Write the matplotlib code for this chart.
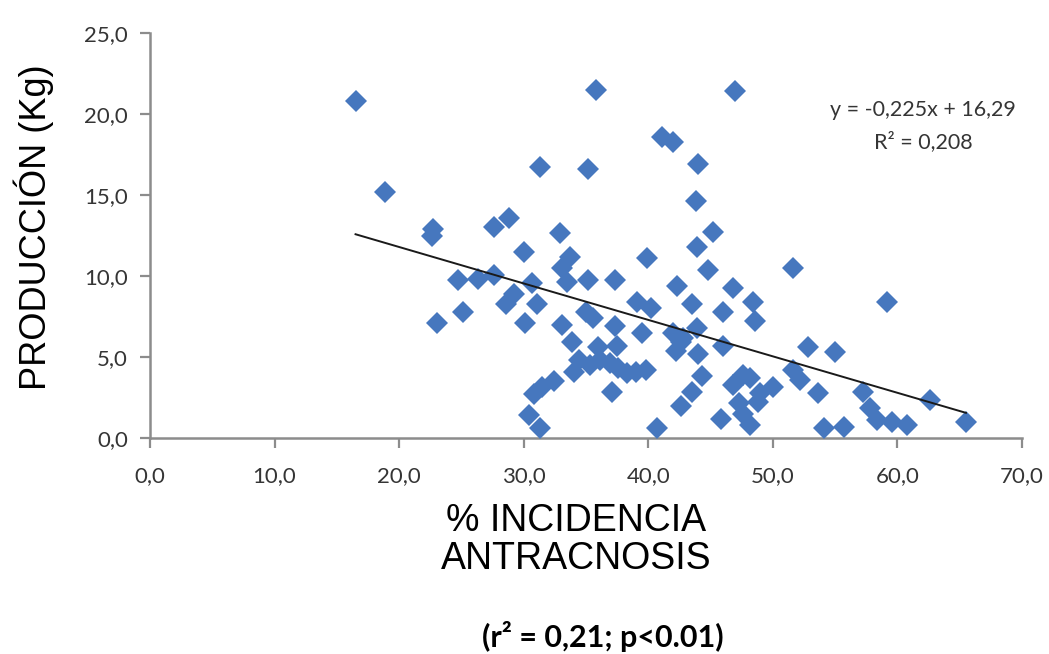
import matplotlib
matplotlib.use("Agg")
import matplotlib.pyplot as plt
import numpy as np

# ---- data ----
incidencia = [16.5, 18.9, 22.6, 22.7, 23.0, 24.7, 25.1, 26.3, 27.6, 27.6, 28.8, 28.6, 29.2,
              30.0, 30.7, 31.1, 30.1, 30.4, 30.8, 31.5, 32.4, 31.3, 31.3, 32.9, 33.7, 33.1,
              33.5, 35.2, 37.35, 33.1, 33.9, 35.0, 35.6, 37.35, 37.5, 36.0, 34.4, 34.0, 35.3,
              36.1, 36.9, 37.6, 38.3, 39.0, 39.8, 37.1, 35.2, 35.8, 39.9, 39.1, 40.2, 39.5,
              40.7, 41.1, 42.0, 44.0, 43.8, 45.2, 43.9, 44.8, 42.3, 43.5, 42.0, 42.6, 42.2,
              42.8, 43.9, 44.0, 42.6, 43.5, 44.3, 45.8, 46.0, 46.0, 47.0, 46.8, 48.4, 48.6,
              51.6, 47.6, 46.8, 48.2, 49.0, 50.0, 48.8, 47.3, 47.6, 48.2, 51.6, 52.2, 52.8,
              55.0, 53.6, 54.1, 55.7, 57.2, 57.8, 58.4, 59.6, 60.8, 59.2, 62.6, 65.5]
produccion = [20.8, 15.2, 12.5, 12.9, 7.1, 9.75, 7.8, 9.8, 10.05, 13.0, 13.6, 8.3, 8.9,
              11.5, 9.55, 8.3, 7.1, 1.4, 2.7, 3.15, 3.5, 0.6, 16.7, 12.65, 11.2, 10.5,
              9.6, 9.75, 9.75, 7.0, 5.9, 7.8, 7.4, 6.9, 5.7, 5.6, 4.8, 4.1, 4.5,
              4.8, 4.6, 4.3, 4.0, 4.1, 4.2, 2.85, 16.6, 21.5, 11.1, 8.4, 8.0, 6.5,
              0.6, 18.6, 18.3, 16.9, 14.6, 12.7, 11.8, 10.4, 9.4, 8.3, 6.5, 5.9, 5.4,
              6.2, 6.8, 5.2, 2.0, 2.85, 3.8, 1.2, 7.8, 5.7, 21.4, 9.25, 8.4, 7.2,
              10.5, 3.9, 3.3, 3.7, 2.8, 3.15, 2.2, 2.15, 1.5, 0.8, 4.2, 3.6, 5.6,
              5.3, 2.8, 0.6, 0.7, 2.85, 1.85, 1.1, 1.0, 0.8, 8.4, 2.35, 1.0]

slope = -0.225
intercept = 16.29
x_ticks = [0, 10, 20, 30, 40, 50, 60, 70]
x_tick_labels = ["0,0", "10,0", "20,0", "30,0", "40,0", "50,0", "60,0", "70,0"]
y_ticks = [0, 5, 10, 15, 20, 25]
y_tick_labels = ["0,0", "5,0", "10,0", "15,0", "20,0", "25,0"]

eq_text = "y = -0,225x + 16,29"
r2_text = "R² = 0,208"
xlabel = "% INCIDENCIA\nANTRACNOSIS"
ylabel = "PRODUCCIÓN (Kg)"
note = "(r² = 0,21; p<0.01)"

# ---- figure ----
W, H = 1049, 654
fig = plt.figure(figsize=(W / 100, H / 100), dpi=100)
ax = fig.add_axes([150 / W, 1 - 438 / H, (1022 - 150) / W, (438 - 33) / H])

ax.plot(incidencia, produccion, linestyle="none", marker="D", markersize=11,
        color="#4677BE", markeredgewidth=0, clip_on=False, zorder=3)

xl = np.array([min(incidencia), max(incidencia)])
ax.plot(xl, slope * xl + intercept, color="#1a1a1a", linewidth=1.4, zorder=4)

ax.set_xlim(0, 70)
ax.set_ylim(0, 25)
ax.set_xticks(x_ticks)
ax.set_xticklabels(x_tick_labels)
ax.set_yticks(y_ticks)
ax.set_yticklabels(y_tick_labels)

for s in ["top", "right"]:
    ax.spines[s].set_visible(False)
for s in ["left", "bottom"]:
    ax.spines[s].set_color("#8c8c8c")
    ax.spines[s].set_linewidth(1.8)

ax.tick_params(axis="both", direction="out", length=7, width=1.6, color="#8c8c8c",
               labelcolor="#353535", labelsize=16)
ax.tick_params(axis="x", pad=13)
ax.tick_params(axis="y", pad=9)
for lab in ax.get_xticklabels() + ax.get_yticklabels():
    lab.set_family("Lato")

fig.text(34 / W, 1 - 227 / H, ylabel, rotation=90, ha="center", va="center",
         fontsize=26, family="Liberation Sans", color="black")
fig.text(576 / W, 1 - 540 / H, xlabel, ha="center", va="center",
         fontsize=27, family="Liberation Sans", color="black", linespacing=1.05)
fig.text(603 / W, 1 - 636 / H, note, ha="center", va="center",
         fontsize=22, family="Lato", weight="bold", color="black")

fig.text(923 / W, 1 - 110 / H, eq_text, ha="center", va="center",
         fontsize=15.5, family="Lato", color="#353535")
fig.text(923 / W, 1 - 142 / H, r2_text, ha="center", va="center",
         fontsize=15.5, family="Lato", color="#353535")

fig.savefig("out.png", dpi=100)
